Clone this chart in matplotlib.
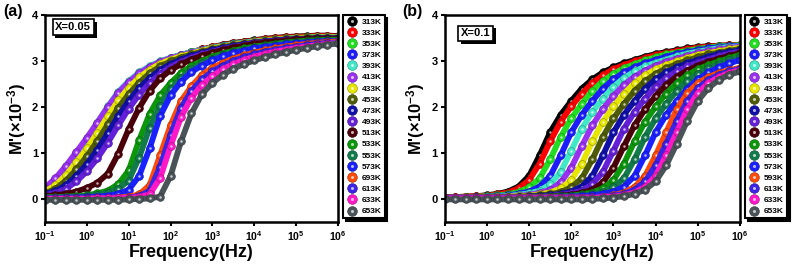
import numpy as np
import matplotlib
matplotlib.use("Agg")
import matplotlib.pyplot as plt
import matplotlib.patheffects as pe
from matplotlib.colors import to_rgb
from matplotlib.lines import Line2D
from matplotlib.legend_handler import HandlerTuple
from matplotlib.ticker import FixedLocator, FuncFormatter, NullLocator

plt.rc("font", family="Liberation Sans", weight="bold")
plt.rc("mathtext", fontset="custom", rm="Liberation Sans:bold", bf="Liberation Sans:bold",
       it="Liberation Sans:bold", default="bf")
plt.rc("axes", linewidth=1.8, labelweight="bold")

# measurement frequencies, log10(Hz)
log_freq = [-1.0, -0.75, -0.5, -0.25, 0.0, 0.25, 0.5, 0.75, 1.0, 1.25, 1.5, 1.75, 2.0, 2.25,
            2.5, 2.75, 3.0, 3.25, 3.5, 3.75, 4.0, 4.25, 4.5, 4.75, 5.0, 5.25, 5.5, 5.75, 6.0]

temps = ["313K", "333K", "353K", "373K", "393K", "413K", "433K", "453K", "473K",
         "493K", "513K", "533K", "553K", "573K", "593K", "613K", "633K", "653K"]
# the left panel's legend reads 693K in place of 593K
temps_a = temps[:14] + ["693K"] + temps[15:]

colors = ["#000000", "#ff0000", "#22dd22", "#1c1cff", "#40e8c8", "#9a30f0",
          "#e6e600", "#4e5c08", "#1010a8", "#6420d8", "#4a0008", "#0c960c",
          "#137a4c", "#1a20ff", "#ff4a0a", "#3a22e6", "#ff18c8", "#4a5458"]

# M' (x10^-3), X = 0.05
a_313 = [0.16, 0.32, 0.56, 0.86, 1.17, 1.52, 1.88, 2.22, 2.48, 2.69, 2.85, 2.97, 3.06, 3.13, 3.19, 3.25, 3.30, 3.35, 3.39, 3.42, 3.45, 3.48, 3.50, 3.52, 3.53, 3.54, 3.55, 3.55, 3.54]
a_333 = [0.18, 0.35, 0.60, 0.90, 1.21, 1.56, 1.92, 2.25, 2.50, 2.71, 2.86, 2.98, 3.06, 3.13, 3.19, 3.25, 3.30, 3.34, 3.38, 3.41, 3.44, 3.47, 3.49, 3.51, 3.52, 3.53, 3.54, 3.54, 3.53]
a_353 = [0.20, 0.38, 0.65, 0.95, 1.25, 1.60, 1.95, 2.28, 2.52, 2.72, 2.87, 2.98, 3.06, 3.13, 3.19, 3.24, 3.29, 3.33, 3.37, 3.40, 3.43, 3.45, 3.47, 3.49, 3.50, 3.51, 3.52, 3.52, 3.52]
a_373 = [0.19, 0.37, 0.63, 0.93, 1.24, 1.59, 1.94, 2.27, 2.51, 2.71, 2.86, 2.97, 3.05, 3.12, 3.18, 3.23, 3.28, 3.32, 3.36, 3.39, 3.42, 3.44, 3.46, 3.48, 3.49, 3.50, 3.51, 3.51, 3.51]
a_393 = [0.22, 0.41, 0.69, 1.00, 1.31, 1.66, 2.01, 2.33, 2.56, 2.75, 2.89, 2.99, 3.07, 3.13, 3.19, 3.24, 3.28, 3.32, 3.36, 3.39, 3.42, 3.44, 3.46, 3.48, 3.49, 3.50, 3.51, 3.51, 3.51]
a_413 = [0.24, 0.45, 0.72, 1.02, 1.33, 1.66, 2.00, 2.31, 2.54, 2.73, 2.87, 2.98, 3.06, 3.12, 3.18, 3.23, 3.27, 3.31, 3.35, 3.38, 3.41, 3.43, 3.45, 3.47, 3.48, 3.49, 3.50, 3.50, 3.50]
a_433 = [0.16, 0.30, 0.52, 0.80, 1.10, 1.44, 1.80, 2.14, 2.42, 2.64, 2.81, 2.94, 3.03, 3.10, 3.16, 3.22, 3.27, 3.31, 3.35, 3.38, 3.41, 3.44, 3.46, 3.48, 3.49, 3.50, 3.51, 3.51, 3.51]
a_453 = [0.12, 0.22, 0.40, 0.64, 0.93, 1.26, 1.62, 1.98, 2.28, 2.53, 2.73, 2.88, 2.99, 3.07, 3.14, 3.20, 3.25, 3.30, 3.34, 3.37, 3.40, 3.43, 3.45, 3.47, 3.48, 3.49, 3.50, 3.50, 3.50]
a_473 = [0.10, 0.17, 0.30, 0.50, 0.76, 1.07, 1.43, 1.80, 2.13, 2.41, 2.63, 2.80, 2.93, 3.03, 3.11, 3.17, 3.23, 3.28, 3.32, 3.36, 3.39, 3.42, 3.44, 3.46, 3.47, 3.48, 3.49, 3.49, 3.49]
a_493 = [0.08, 0.13, 0.22, 0.38, 0.60, 0.88, 1.22, 1.60, 1.96, 2.27, 2.52, 2.72, 2.87, 2.98, 3.07, 3.14, 3.20, 3.26, 3.30, 3.34, 3.38, 3.41, 3.43, 3.45, 3.46, 3.47, 3.48, 3.48, 3.48]
a_513 = [0.06, 0.08, 0.11, 0.16, 0.24, 0.35, 0.55, 0.98, 1.52, 1.98, 2.35, 2.62, 2.80, 2.93, 3.03, 3.11, 3.18, 3.24, 3.29, 3.33, 3.37, 3.40, 3.42, 3.44, 3.46, 3.47, 3.48, 3.48, 3.48]
a_533 = [0.04, 0.04, 0.05, 0.06, 0.08, 0.12, 0.18, 0.32, 0.62, 1.28, 1.85, 2.25, 2.52, 2.74, 2.89, 3.00, 3.09, 3.16, 3.22, 3.27, 3.31, 3.34, 3.37, 3.40, 3.42, 3.44, 3.45, 3.46, 3.46]
a_553 = [0.03, 0.03, 0.04, 0.05, 0.06, 0.09, 0.13, 0.22, 0.40, 0.90, 1.55, 2.02, 2.38, 2.63, 2.82, 2.95, 3.05, 3.13, 3.19, 3.24, 3.29, 3.32, 3.35, 3.38, 3.40, 3.42, 3.43, 3.44, 3.44]
a_573 = [0.02, 0.02, 0.03, 0.03, 0.04, 0.05, 0.07, 0.11, 0.20, 0.50, 1.10, 1.80, 2.25, 2.55, 2.76, 2.90, 3.01, 3.10, 3.17, 3.22, 3.27, 3.30, 3.33, 3.36, 3.38, 3.40, 3.42, 3.43, 3.43]
a_593 = [0.01, 0.01, 0.01, 0.01, 0.01, 0.02, 0.02, 0.03, 0.05, 0.10, 0.30, 0.95, 1.60, 2.13, 2.45, 2.70, 2.85, 2.96, 3.05, 3.12, 3.18, 3.23, 3.27, 3.31, 3.34, 3.37, 3.39, 3.41, 3.42]
a_613 = [0.01, 0.01, 0.01, 0.01, 0.01, 0.01, 0.02, 0.02, 0.03, 0.06, 0.18, 0.70, 1.40, 1.98, 2.35, 2.60, 2.77, 2.90, 3.00, 3.08, 3.14, 3.20, 3.24, 3.28, 3.31, 3.34, 3.37, 3.39, 3.40]
a_633 = [0.00, 0.00, 0.00, 0.00, 0.00, 0.01, 0.01, 0.02, 0.02, 0.04, 0.10, 0.45, 1.15, 1.78, 2.20, 2.48, 2.67, 2.82, 2.93, 3.02, 3.09, 3.15, 3.20, 3.24, 3.28, 3.31, 3.34, 3.37, 3.39]
a_653 = [-0.02, -0.02, -0.02, -0.02, -0.02, -0.02, -0.02, -0.02, -0.01, 0.00, 0.01, 0.05, 0.50, 1.25, 1.86, 2.28, 2.52, 2.70, 2.83, 2.93, 3.01, 3.08, 3.14, 3.19, 3.24, 3.28, 3.32, 3.35, 3.38]

# M' (x10^-3), X = 0.1
b_313 = [0.03, 0.04, 0.05, 0.06, 0.08, 0.11, 0.16, 0.27, 0.50, 0.95, 1.45, 1.83, 2.13, 2.40, 2.60, 2.75, 2.86, 2.95, 3.02, 3.09, 3.15, 3.19, 3.23, 3.27, 3.30, 3.32, 3.33, 3.34, 3.35]
b_333 = [0.03, 0.04, 0.05, 0.06, 0.07, 0.10, 0.14, 0.23, 0.41, 0.77, 1.25, 1.68, 2.01, 2.29, 2.52, 2.69, 2.82, 2.91, 2.99, 3.06, 3.13, 3.17, 3.21, 3.25, 3.29, 3.31, 3.33, 3.34, 3.35]
b_353 = [0.03, 0.03, 0.04, 0.05, 0.06, 0.08, 0.10, 0.15, 0.25, 0.45, 0.86, 1.35, 1.75, 2.07, 2.35, 2.56, 2.72, 2.84, 2.93, 3.01, 3.08, 3.14, 3.18, 3.22, 3.26, 3.29, 3.32, 3.33, 3.34]
b_373 = [0.03, 0.03, 0.03, 0.04, 0.05, 0.06, 0.08, 0.11, 0.16, 0.27, 0.50, 0.95, 1.45, 1.83, 2.13, 2.40, 2.60, 2.75, 2.86, 2.95, 3.02, 3.09, 3.15, 3.19, 3.23, 3.27, 3.30, 3.32, 3.33]
b_393 = [0.03, 0.03, 0.03, 0.03, 0.04, 0.05, 0.06, 0.09, 0.12, 0.18, 0.32, 0.59, 1.05, 1.53, 1.89, 2.18, 2.44, 2.63, 2.77, 2.88, 2.96, 3.03, 3.10, 3.16, 3.20, 3.24, 3.28, 3.30, 3.32]
b_413 = [0.03, 0.03, 0.03, 0.03, 0.03, 0.04, 0.05, 0.07, 0.09, 0.13, 0.20, 0.36, 0.68, 1.15, 1.60, 1.95, 2.24, 2.48, 2.66, 2.79, 2.90, 2.98, 3.05, 3.11, 3.17, 3.21, 3.25, 3.28, 3.31]
b_433 = [0.03, 0.03, 0.03, 0.03, 0.03, 0.04, 0.05, 0.06, 0.07, 0.10, 0.14, 0.23, 0.41, 0.77, 1.25, 1.68, 2.01, 2.29, 2.52, 2.69, 2.82, 2.91, 2.99, 3.06, 3.13, 3.17, 3.21, 3.25, 3.29]
b_453 = [0.03, 0.03, 0.03, 0.03, 0.03, 0.03, 0.04, 0.05, 0.06, 0.08, 0.10, 0.15, 0.25, 0.45, 0.86, 1.35, 1.75, 2.07, 2.35, 2.56, 2.72, 2.84, 2.93, 3.01, 3.08, 3.14, 3.18, 3.22, 3.26]
b_473 = [0.03, 0.03, 0.03, 0.03, 0.03, 0.03, 0.03, 0.04, 0.05, 0.06, 0.08, 0.11, 0.16, 0.27, 0.50, 0.95, 1.45, 1.83, 2.13, 2.40, 2.60, 2.75, 2.86, 2.95, 3.02, 3.09, 3.15, 3.19, 3.23]
b_493 = [0.03, 0.03, 0.03, 0.03, 0.03, 0.03, 0.03, 0.03, 0.04, 0.05, 0.06, 0.09, 0.12, 0.18, 0.32, 0.59, 1.05, 1.53, 1.89, 2.18, 2.44, 2.63, 2.77, 2.88, 2.96, 3.03, 3.10, 3.16, 3.20]
b_513 = [0.03, 0.03, 0.03, 0.03, 0.03, 0.03, 0.03, 0.03, 0.03, 0.04, 0.05, 0.07, 0.09, 0.13, 0.20, 0.36, 0.68, 1.15, 1.60, 1.95, 2.24, 2.48, 2.66, 2.79, 2.90, 2.98, 3.05, 3.11, 3.17]
b_533 = [0.03, 0.03, 0.03, 0.03, 0.03, 0.03, 0.03, 0.03, 0.03, 0.04, 0.05, 0.06, 0.07, 0.10, 0.14, 0.23, 0.41, 0.77, 1.25, 1.68, 2.01, 2.29, 2.52, 2.69, 2.82, 2.91, 2.99, 3.06, 3.13]
b_553 = [0.03, 0.03, 0.03, 0.03, 0.03, 0.03, 0.03, 0.03, 0.03, 0.03, 0.04, 0.05, 0.06, 0.08, 0.10, 0.15, 0.25, 0.45, 0.86, 1.35, 1.75, 2.07, 2.35, 2.56, 2.72, 2.84, 2.93, 3.01, 3.08]
b_573 = [0.03, 0.03, 0.03, 0.03, 0.03, 0.03, 0.03, 0.03, 0.03, 0.03, 0.03, 0.04, 0.05, 0.06, 0.08, 0.11, 0.16, 0.27, 0.50, 0.95, 1.45, 1.83, 2.13, 2.40, 2.60, 2.75, 2.86, 2.95, 3.02]
b_593 = [0.03, 0.03, 0.03, 0.03, 0.03, 0.03, 0.03, 0.03, 0.03, 0.03, 0.03, 0.03, 0.03, 0.03, 0.04, 0.05, 0.08, 0.14, 0.26, 0.50, 0.95, 1.45, 1.95, 2.30, 2.52, 2.65, 2.74, 2.80, 2.85]
b_613 = [0.02, 0.02, 0.02, 0.02, 0.02, 0.02, 0.02, 0.02, 0.02, 0.02, 0.02, 0.02, 0.02, 0.02, 0.04, 0.05, 0.07, 0.11, 0.20, 0.38, 0.73, 1.20, 1.70, 2.13, 2.41, 2.59, 2.70, 2.77, 2.83]
b_633 = [0.01, 0.01, 0.01, 0.01, 0.01, 0.01, 0.01, 0.01, 0.01, 0.01, 0.01, 0.01, 0.01, 0.01, 0.02, 0.04, 0.05, 0.08, 0.14, 0.26, 0.50, 0.95, 1.45, 1.95, 2.30, 2.52, 2.65, 2.74, 2.80]
b_653 = [-0.01, -0.01, -0.01, -0.01, -0.01, -0.01, -0.01, -0.01, -0.01, -0.01, -0.01, -0.01, -0.01, -0.01, 0.00, 0.01, 0.03, 0.06, 0.11, 0.20, 0.38, 0.73, 1.20, 1.70, 2.13, 2.41, 2.59, 2.70, 2.77]

series_a = [a_313, a_333, a_353, a_373, a_393, a_413, a_433, a_453, a_473,
            a_493, a_513, a_533, a_553, a_573, a_593, a_613, a_633, a_653]
series_b = [b_313, b_333, b_353, b_373, b_393, b_413, b_433, b_453, b_473,
            b_493, b_513, b_533, b_553, b_573, b_593, b_613, b_633, b_653]


def shade(c, f=0.6):
    r, g, b = to_rgb(c)
    return (r * f, g * f, b * f)


def bead_handles():
    hs = []
    for c in colors:
        ball = Line2D([], [], ls="none", marker="o", ms=7.0, mfc=c, mec=shade(c), mew=0.4)
        shine = Line2D([], [], ls="none", marker="o", ms=2.2, mfc="white", mec="none", alpha=0.7)
        hs.append((ball, shine))
    return hs


def draw_panel(ax, series, labels, tag_text, tag_xy):
    freq = 10.0 ** np.array(log_freq)
    for vals, c in zip(series, colors):
        # thick band of the series colour so the beads read as one chain
        ax.plot(freq, vals, "-", color=c, lw=4.2, solid_capstyle="round", solid_joinstyle="round")
        ax.plot(freq, vals, ls="none", marker="o", ms=5.6, mfc=c, mec=shade(c), mew=0.4)
        # little white highlight to give the beads their glossy look
        ax.plot(freq, vals, ls="none", marker="o", ms=1.8, mfc="white", mec="none", alpha=0.7)

    ax.set_xscale("log")
    ax.set_xlim(0.1, 1e6)
    ax.set_ylim(-0.5, 4)
    ax.xaxis.set_major_locator(FixedLocator([10.0 ** k for k in range(-1, 7)]))
    ax.xaxis.set_minor_locator(NullLocator())
    ax.xaxis.set_major_formatter(FuncFormatter(lambda v, p: r"$10^{%d}$" % round(np.log10(v))))
    ax.set_yticks([0, 1, 2, 3, 4])
    ax.tick_params(direction="out", length=3, width=1.5, labelsize=8, pad=2)
    ax.tick_params(axis="x", labelsize=7.5)

    ax.set_xlabel("Frequency(Hz)", fontsize=13, fontweight="bold", labelpad=1)
    ax.set_ylabel(r"M'(×10$^{-3}$)", fontsize=12, fontweight="bold", labelpad=3)

    t = ax.text(tag_xy[0], tag_xy[1], tag_text, transform=ax.transAxes, fontsize=8,
                fontweight="bold", ha="left", va="top",
                bbox=dict(boxstyle="square,pad=0.25", fc="white", ec="black", lw=1.2))
    t.get_bbox_patch().set_path_effects(
        [pe.withSimplePatchShadow(offset=(2, -2), shadow_rgbFace="black", alpha=1.0)])

    leg = ax.legend(bead_handles(), labels, handler_map={tuple: HandlerTuple(ndivide=1)},
                    loc="upper left", bbox_to_anchor=(1.017, 1.0), borderaxespad=0,
                    prop={"size": 6, "weight": "bold"}, labelspacing=0.4,
                    handlelength=1.4, handletextpad=0.5, borderpad=0.35,
                    frameon=True, fancybox=False, edgecolor="black",
                    shadow={"color": "black", "alpha": 1.0})
    leg.get_frame().set_linewidth(1.5)


fig = plt.figure(figsize=(7.97, 2.71), dpi=100)
ax_a = fig.add_axes([0.0565, 0.181, 0.3675, 0.764])
ax_b = fig.add_axes([0.558, 0.181, 0.3705, 0.764])

draw_panel(ax_a, series_a, temps_a, "X=0.05", (0.035, 0.965))
draw_panel(ax_b, series_b, temps, "X=0.1", (0.055, 0.935))

fig.text(0.004, 0.985, "(a)", fontsize=11.5, fontweight="bold", va="top", ha="left")
fig.text(0.505, 0.985, "(b)", fontsize=11.5, fontweight="bold", va="top", ha="left")

fig.savefig("out.png", dpi=100)
